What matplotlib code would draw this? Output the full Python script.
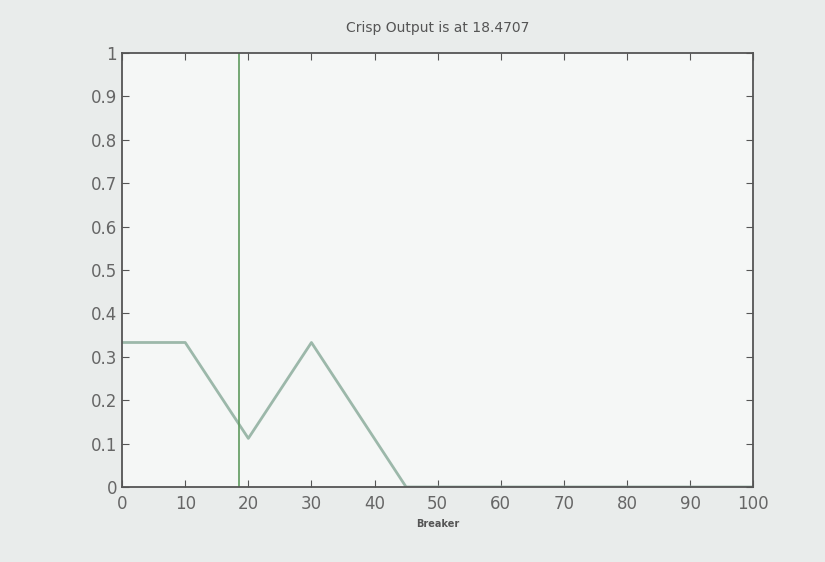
import matplotlib.pyplot as plt

# membership curve (aggregated output) and crisp value
x_pts = [0, 10, 20, 30, 45, 100]
mu_pts = [0.333, 0.333, 0.112, 0.333, 0.0, 0.0]
crisp = 18.4707
x_ticks = [0, 10, 20, 30, 40, 50, 60, 70, 80, 90, 100]
y_ticks = [0, 0.1, 0.2, 0.3, 0.4, 0.5, 0.6, 0.7, 0.8, 0.9, 1]

fig = plt.figure(figsize=(8.25, 5.62), dpi=100)
fig.patch.set_facecolor('#e9eceb')
ax = fig.add_axes([0.148, 0.1335, 0.765, 0.772])
ax.set_facecolor('#f5f7f6')

ax.plot(x_pts, mu_pts, color='#9cb8aa', lw=2)
ax.plot([crisp, crisp], [0, 1], color='#5e9a5e', lw=1.2)

ax.set_xlim(0, 100)
ax.set_ylim(0, 1)
ax.set_xticks(x_ticks)
ax.set_yticks(y_ticks)
ax.set_yticklabels(['0', '0.1', '0.2', '0.3', '0.4', '0.5', '0.6', '0.7', '0.8', '0.9', '1'])
ax.tick_params(direction='in', top=True, right=True, length=5, labelsize=12,
               colors='#555555', labelcolor='#666666')
ax.tick_params(axis='x', pad=6)
for s in ax.spines.values():
    s.set_color('#555555')
    s.set_linewidth(1.3)

ax.set_title('Crisp Output is at %.4f' % crisp, fontsize=10, color='#555555', pad=15)
ax.set_xlabel('Breaker', fontsize=7, fontweight='bold', color='#555555', labelpad=4)

fig.savefig('out.png', dpi=100, facecolor=fig.get_facecolor())
